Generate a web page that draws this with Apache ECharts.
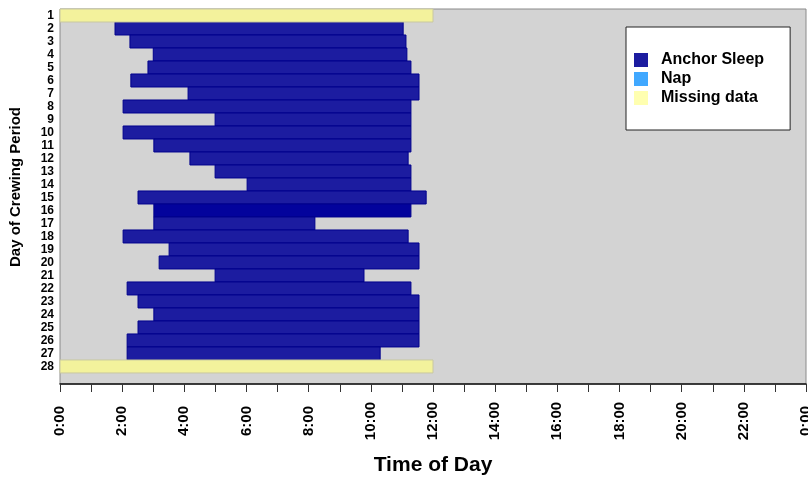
<!DOCTYPE html>
<html>
<head>
<meta charset="utf-8">
<title>Crewing period sleep</title>
<script src="https://cdn.jsdelivr.net/npm/echarts@6/dist/echarts.min.js"></script>
<style>
  html, body { margin: 0; padding: 0; background: #fff; }
  #chart { width: 808px; height: 477px; }
</style>
</head>
<body>
<div id="chart"></div>
<script>
// Days of the crewing period (rows, top to bottom)
const days = Array.from({ length: 28 }, (_, i) => i + 1);

// Anchor sleep episodes: day, start hour, end hour
const sleepDays  = [2, 3, 4, 5, 6, 7, 8, 9, 10, 11, 12, 13, 14, 15, 16, 17, 18, 19, 20, 21, 22, 23, 24, 25, 26, 27];
const sleepStart = [1.77, 2.25, 3.0, 2.83, 2.28, 4.12, 2.03, 4.99, 2.03, 3.02, 4.18, 4.99, 6.02, 2.51, 3.02, 3.02, 2.03, 3.51, 3.19, 4.99, 2.16, 2.51, 3.02, 2.51, 2.16, 2.16];
const sleepEnd   = [11.04, 11.13, 11.16, 11.29, 11.55, 11.55, 11.29, 11.29, 11.29, 11.29, 11.2, 11.29, 11.29, 11.78, 11.29, 8.2, 11.2, 11.55, 11.55, 9.78, 11.29, 11.55, 11.55, 11.55, 11.55, 10.3];

// Naps (none recorded)
const napDays  = [];
const napStart = [];
const napEnd   = [];

// Days with missing data
const missingDays  = [1, 28];
const missingStart = [0, 0];
const missingEnd   = [12, 12];

// Hour tick labels, one per two hours
const timeLabels = ['0:00', '2:00', '4:00', '6:00', '8:00', '10:00', '12:00', '14:00', '16:00', '18:00', '20:00', '22:00', '0:00'];

const FONT = "'Liberation Sans', Arial, sans-serif";
const markedDay = 16;

function rows(d, s, e) {
  return d.map((day, i) => [s[i], e[i], day]);
}

function makeRender(stroke, markColor) {
  return function (params, api) {
    const start = api.coord([api.value(0), api.value(2)]);
    const end = api.coord([api.value(1), api.value(2)]);
    const h = api.size([0, 1])[1];
    let fill = api.visual('color');
    if (markColor && api.value(2) === markedDay) fill = markColor;
    const shape = echarts.graphic.clipRectByRect(
      { x: start[0], y: start[1] - h / 2, width: end[0] - start[0], height: h },
      { x: params.coordSys.x, y: params.coordSys.y, width: params.coordSys.width, height: params.coordSys.height }
    );
    return shape && {
      type: 'rect',
      shape: shape,
      style: { fill: fill, stroke: stroke, lineWidth: 1 }
    };
  };
}

const chart = echarts.init(document.getElementById('chart'), null, { renderer: 'canvas' });

chart.setOption({
  animation: false,
  textStyle: { fontFamily: FONT },
  grid: {
    left: 60, right: 2, top: 9, bottom: 93,
    outerBoundsMode: 'none',
    containLabel: false,
    show: true,
    backgroundColor: '#d3d3d3',
    borderColor: '#8a8a8a',
    borderWidth: 1
  },
  legend: {
    orient: 'vertical',
    left: 626, top: 27,
    backgroundColor: '#ffffff',
    borderColor: '#222',
    borderWidth: 1,
    padding: [25, 26, 24, 8],
    itemWidth: 14, itemHeight: 14, itemGap: 3,
    icon: 'rect',
    textStyle: { fontFamily: FONT, fontSize: 16, fontWeight: 'bold', color: '#000', lineHeight: 14, padding: [0, 0, 0, 8] },
    data: [
      { name: 'Anchor Sleep', itemStyle: { color: '#1c1ca0' } },
      { name: 'Nap', itemStyle: { color: '#40a8ff' } },
      { name: 'Missing data', itemStyle: { color: '#ffffb0' } }
    ]
  },
  xAxis: {
    type: 'value',
    min: 0, max: 24, interval: 1,
    name: 'Time of Day',
    nameLocation: 'middle',
    nameGap: 71,
    nameTextStyle: { fontFamily: FONT, fontSize: 21, fontWeight: 'bold', color: '#000' },
    axisLine: { show: true, lineStyle: { color: '#111', width: 1.5 } },
    axisTick: { show: true, length: 8, lineStyle: { color: '#333' } },
    splitLine: { show: false },
    axisLabel: {
      formatter: v => (v % 2 === 0 ? timeLabels[v / 2] : ''),
      rotate: 90,
      align: 'center',
      verticalAlign: 'middle',
      margin: 37,
      fontFamily: FONT,
      fontSize: 15,
      fontWeight: 'bold',
      color: '#000',
      showMinLabel: true,
      showMaxLabel: true,
      hideOverlap: false
    }
  },
  yAxis: {
    type: 'value',
    inverse: true,
    min: 0.5, max: 29.35,
    axisLine: { show: false },
    axisTick: { show: false },
    splitLine: { show: false },
    axisLabel: {
      customValues: days,
      margin: 6,
      fontFamily: FONT,
      fontSize: 12,
      fontWeight: 'bold',
      color: '#000'
    }
  },
  graphic: [{
    type: 'text',
    x: 16, y: 187,
    rotation: Math.PI / 2,
    style: {
      text: 'Day of Crewing Period',
      font: "bold 15px 'Liberation Sans', Arial, sans-serif",
      fill: '#000',
      align: 'center',
      verticalAlign: 'middle'
    }
  }],
  series: [
    {
      name: 'Anchor Sleep',
      type: 'custom',
      itemStyle: { color: '#1c1ca0' },
      renderItem: makeRender('#00008c', '#03039c'),
      encode: { x: [0, 1], y: 2 },
      data: rows(sleepDays, sleepStart, sleepEnd)
    },
    {
      name: 'Nap',
      type: 'custom',
      itemStyle: { color: '#40a8ff' },
      renderItem: makeRender('#2080d0'),
      encode: { x: [0, 1], y: 2 },
      data: rows(napDays, napStart, napEnd)
    },
    {
      name: 'Missing data',
      type: 'custom',
      itemStyle: { color: '#f3f29c' },
      renderItem: makeRender('#c9c8a0'),
      encode: { x: [0, 1], y: 2 },
      data: rows(missingDays, missingStart, missingEnd)
    }
  ]
});
</script>
</body>
</html>
